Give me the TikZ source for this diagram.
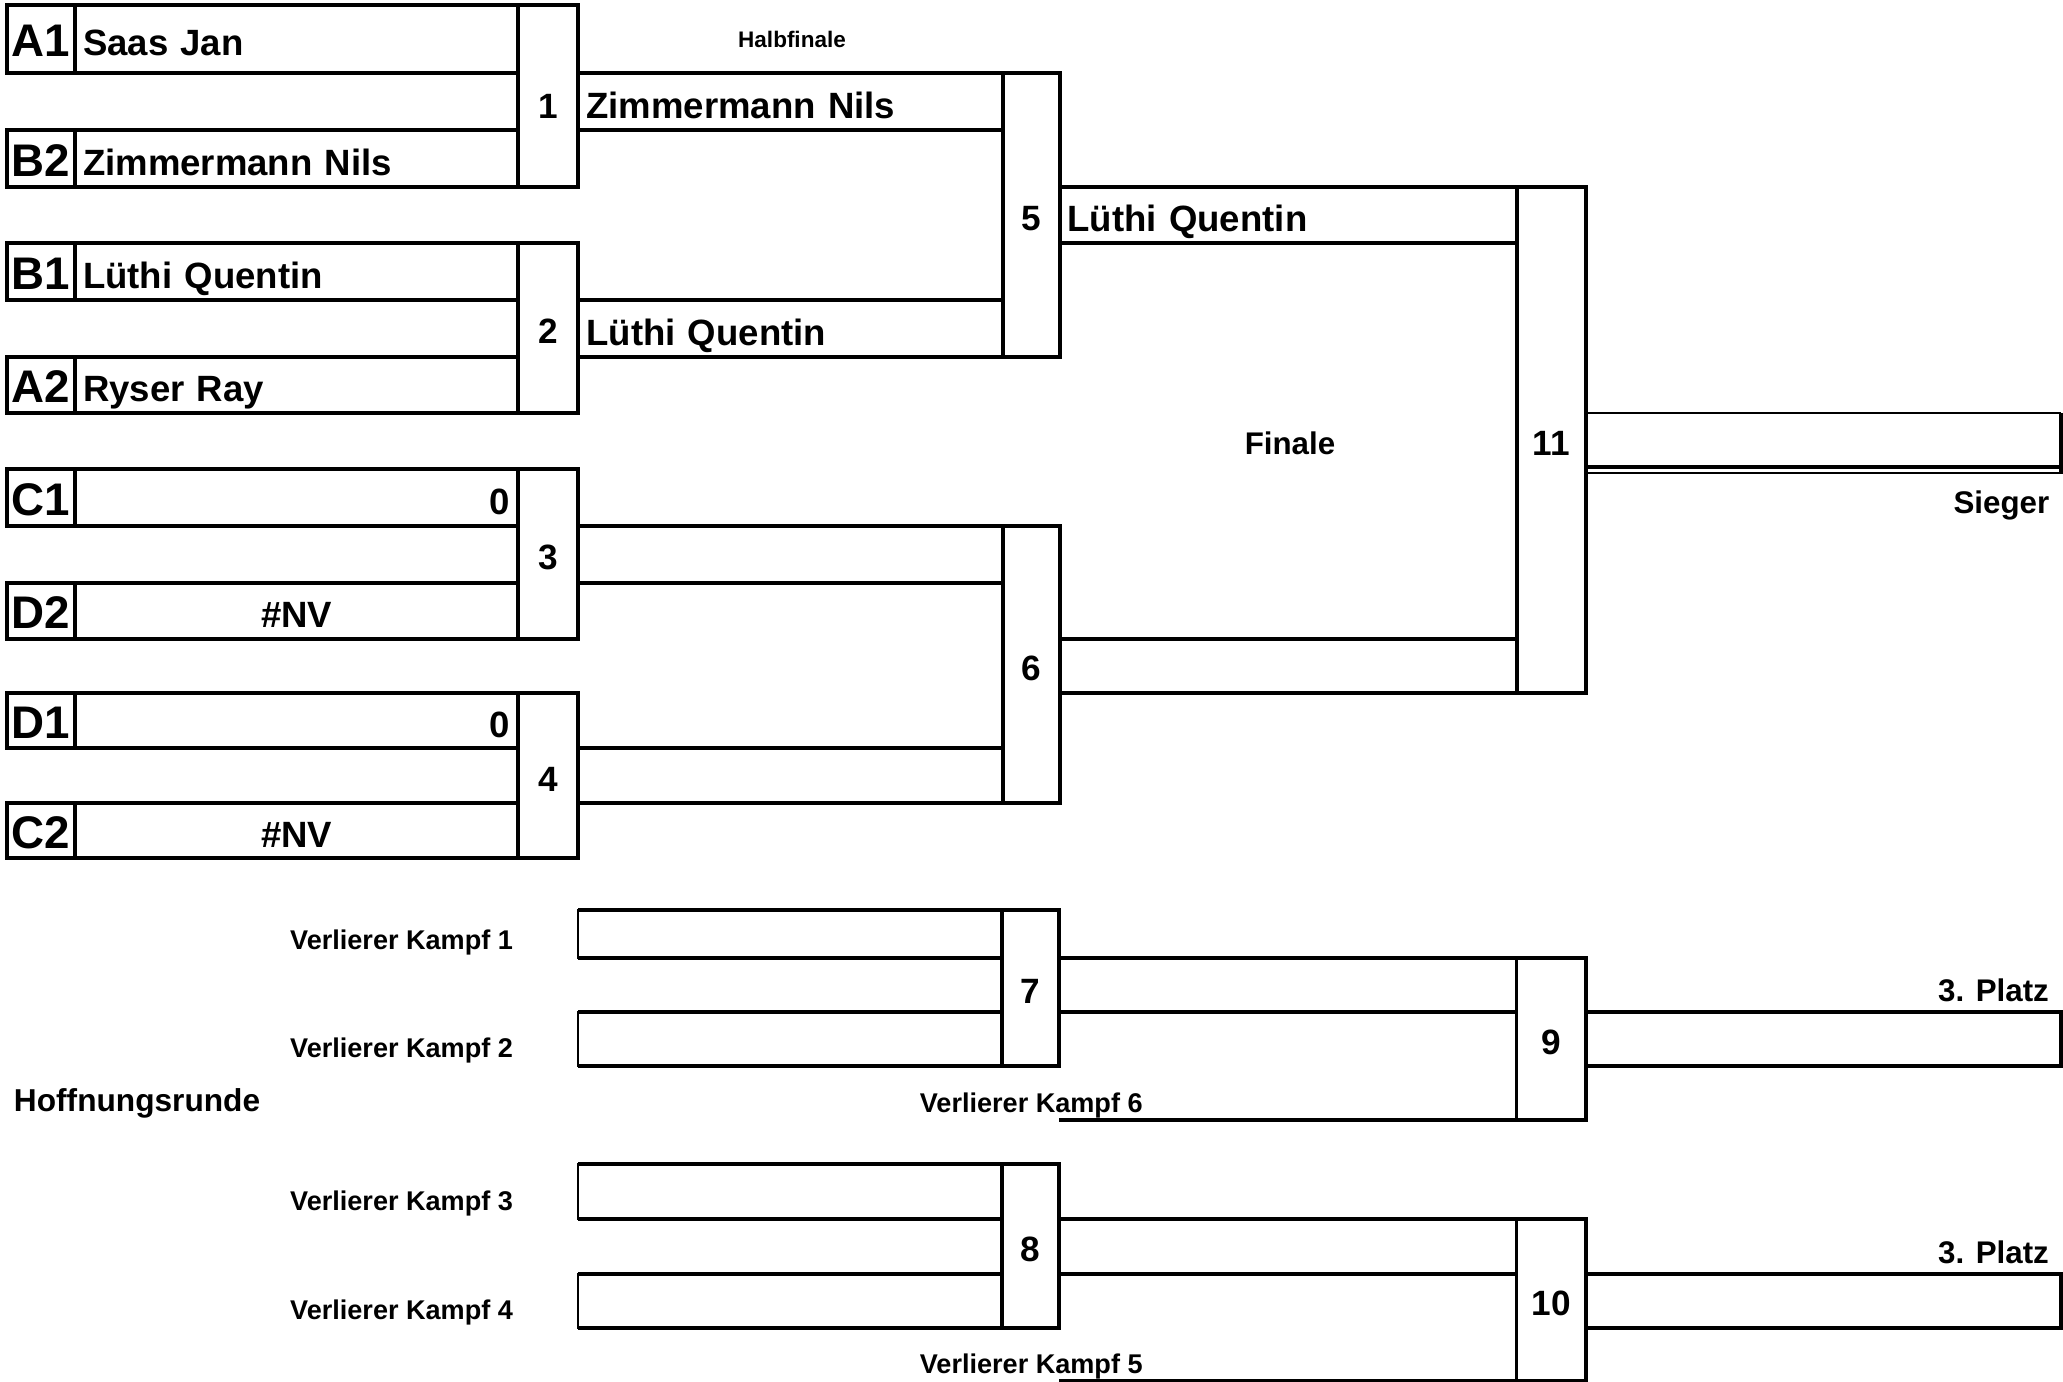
\documentclass[tikz,border=0pt]{standalone}
\usepackage{fontspec}
\setmainfont{Liberation Sans}
\usepackage{tikz}
\usetikzlibrary{positioning}
\tikzset{
    strong/.style={line width=1.1pt},
    faint/.style={line width=0.5pt},
    cell/.style={draw, strong, anchor=north west, inner sep=0pt, outer sep=0pt},
    seedcell/.style={cell, minimum width=0.68cm, text height=0.35cm, text depth=0pt,
        font=\fontsize{13}{15}\selectfont\bfseries},
    seat/.style={cell, inner xsep=0.08cm, text height=0.33cm, text depth=0pt,
        font=\fontsize{10.4}{12}\selectfont\bfseries},
    entrant/.style={seat, minimum width=4.43cm, text width=4.27cm},
    semiseat/.style={seat, minimum width=4.24cm, text width=4.08cm},
    finalseat/.style={seat, minimum width=4.57cm, text width=4.41cm},
    podium/.style={cell, minimum width=4.75cm},
    repbox/.style={cell, faint, minimum width=4.24cm},
    bout/.style={cell, minimum width=#1, text height=0.31cm, text depth=0pt,
        font=\fontsize{10}{12}\selectfont\bfseries},
    caption/.style={inner sep=0pt, outer sep=0pt, font=\fontsize{8.9}{10}\selectfont\bfseries},
    loser/.style={inner sep=0pt, outer sep=0pt, font=\fontsize{7.7}{9}\selectfont\bfseries}
}
\begin{document}
\begin{tikzpicture}[x=0.01cm, y=-0.01cm]
\useasboundingbox (0,0) rectangle (2063,1381);

% erste Runde
\node[seedcell, minimum height=0.68cm] (sA1) at (7,5) {A1};
\node[entrant, minimum height=0.68cm, right=0pt of sA1] (nA1) {Saas Jan};
\node[seedcell, minimum height=0.57cm] (sB2) at (7,130) {B2};
\node[entrant, minimum height=0.57cm, right=0pt of sB2] (nB2) {Zimmermann Nils};
\node[seedcell, minimum height=0.57cm] (sB1) at (7,243) {B1};
\node[entrant, minimum height=0.57cm, right=0pt of sB1] (nB1) {Lüthi Quentin};
\node[seedcell, minimum height=0.56cm] (sA2) at (7,357) {A2};
\node[entrant, minimum height=0.56cm, right=0pt of sA2] (nA2) {Ryser Ray};
\node[seedcell, minimum height=0.57cm] (sC1) at (7,469) {C1};
\node[entrant, minimum height=0.57cm, align=right, right=0pt of sC1] (nC1) {0};
\node[seedcell, minimum height=0.56cm] (sD2) at (7,583) {D2};
\node[entrant, minimum height=0.56cm, align=center, right=0pt of sD2] (nD2) {\#NV};
\node[seedcell, minimum height=0.55cm] (sD1) at (7,693) {D1};
\node[entrant, minimum height=0.55cm, align=right, right=0pt of sD1] (nD1) {0};
\node[seedcell, minimum height=0.55cm] (sC2) at (7,803) {C2};
\node[entrant, minimum height=0.55cm, align=center, right=0pt of sC2] (nC2) {\#NV};

\node[bout=0.60cm, minimum height=1.82cm, text height=0.45cm] (m1) at (nA1.north east) {1};
\node[bout=0.60cm, minimum height=1.70cm] (m2) at (nB1.north east) {2};
\node[bout=0.60cm, minimum height=1.70cm] (m3) at (nC1.north east) {3};
\node[bout=0.60cm, minimum height=1.65cm] (m4) at (nD1.north east) {4};

% Halbfinale
\node[semiseat, minimum height=0.57cm] (w1) at (m1.east |- nA1.south) {Zimmermann Nils};
\node[semiseat, minimum height=0.57cm] (w2) at (m2.east |- nB1.south) {Lüthi Quentin};
\node[semiseat, minimum height=0.57cm] (w3) at (m3.east |- nC1.south) {};
\node[semiseat, minimum height=0.55cm] (w4) at (m4.east |- nD1.south) {};
\node[bout=0.57cm, minimum height=2.84cm] (m5) at (w1.north east) {5};
\node[bout=0.57cm, minimum height=2.77cm] (m6) at (w3.north east) {6};

% Finale
\node[finalseat, minimum height=0.56cm] (w5) at (m5.east |- nB2.south) {Lüthi Quentin};
\node[finalseat, minimum height=0.54cm] (w6) at (m6.east |- nD2.south) {};
\node[bout=0.69cm, minimum height=5.06cm] (m11) at (w5.north east) {11};
\node[podium, draw=none, minimum height=0.54cm] (sieg) at (m11.east |- nA2.south) {};
\draw[faint] (sieg.north west) -- (sieg.north east);
\draw[strong] (sieg.south west) -- (sieg.south east);
\draw[faint] ([yshift=-0.06cm]sieg.south west) -- ([yshift=-0.06cm]sieg.south east);
\draw[line width=1.5pt] (sieg.north east) -- ([yshift=-0.07cm]sieg.south east);

\node[caption, font=\fontsize{6.4}{8}\selectfont\bfseries] (halb) at (792,39) {Halbfinale};
\node[caption] (finale) at (1290,443) {Finale};
\node[caption, anchor=base east] (sieger) at ([xshift=-0.12cm, yshift=-0.46cm]sieg.south east) {Sieger};

% Hoffnungsrunde
\node[repbox, minimum height=0.48cm] (vk1) at (578,910) {};
\node[repbox, minimum height=0.54cm] (vk2) at (578,1012) {};
\node[repbox, minimum height=0.55cm] (vk3) at (578,1164) {};
\node[repbox, minimum height=0.54cm] (vk4) at (578,1274) {};
\foreach \v in {vk1,vk2,vk3,vk4}
    \draw[strong] (\v.north west) -- (\v.north east) (\v.south west) -- (\v.south east);

\node[bout=0.57cm, minimum height=1.56cm] (m7) at (vk1.north east) {7};
\node[bout=0.57cm, minimum height=1.64cm] (m8) at (vk3.north east) {8};
\node[finalseat, minimum height=0.54cm] (o7) at (m7.east |- vk1.south) {};
\node[finalseat, minimum height=0.55cm] (o8) at (m8.east |- vk3.south) {};
\node[bout=0.69cm, minimum height=1.62cm] (m9) at (o7.north east) {9};
\node[bout=0.69cm, minimum height=1.62cm] (m10) at (o8.north east) {10};
\node[podium, minimum height=0.54cm] (p9) at (m9.east |- vk2.north) {};
\node[podium, minimum height=0.54cm] (p10) at (m10.east |- vk4.north) {};

\coordinate (vk6) at (m7.east |- m9.south);
\coordinate (vk5) at (m8.east |- m10.south);
\draw[strong] (vk6) -- (m9.south west);
\draw[strong] (vk5) -- (m10.south west);

\node[loser, anchor=base east] (lvk1) at ([xshift=-0.65cm, yshift=0.09cm]vk1.south west) {Verlierer Kampf 1};
\node[loser, anchor=base east] (lvk2) at ([xshift=-0.65cm, yshift=0.09cm]vk2.south west) {Verlierer Kampf 2};
\node[loser, anchor=base east] (lvk3) at ([xshift=-0.65cm, yshift=0.09cm]vk3.south west) {Verlierer Kampf 3};
\node[loser, anchor=base east] (lvk4) at ([xshift=-0.65cm, yshift=0.09cm]vk4.south west) {Verlierer Kampf 4};
\node[loser, anchor=base] (lvk6) at ([xshift=-0.28cm, yshift=0.08cm]vk6) {Verlierer Kampf 6};
\node[loser, anchor=base] (lvk5) at ([xshift=-0.28cm, yshift=0.08cm]vk5) {Verlierer Kampf 5};

\node[caption, font=\fontsize{9}{11}\selectfont\bfseries, anchor=base west] (hoff) at (14,1111) {Hoffnungsrunde};
\node[caption, anchor=base east] (platz9) at ([xshift=-0.12cm, yshift=0.11cm]p9.north east) {3. Platz};
\node[caption, anchor=base east] (platz10) at ([xshift=-0.12cm, yshift=0.11cm]p10.north east) {3. Platz};
\end{tikzpicture}
\end{document}
